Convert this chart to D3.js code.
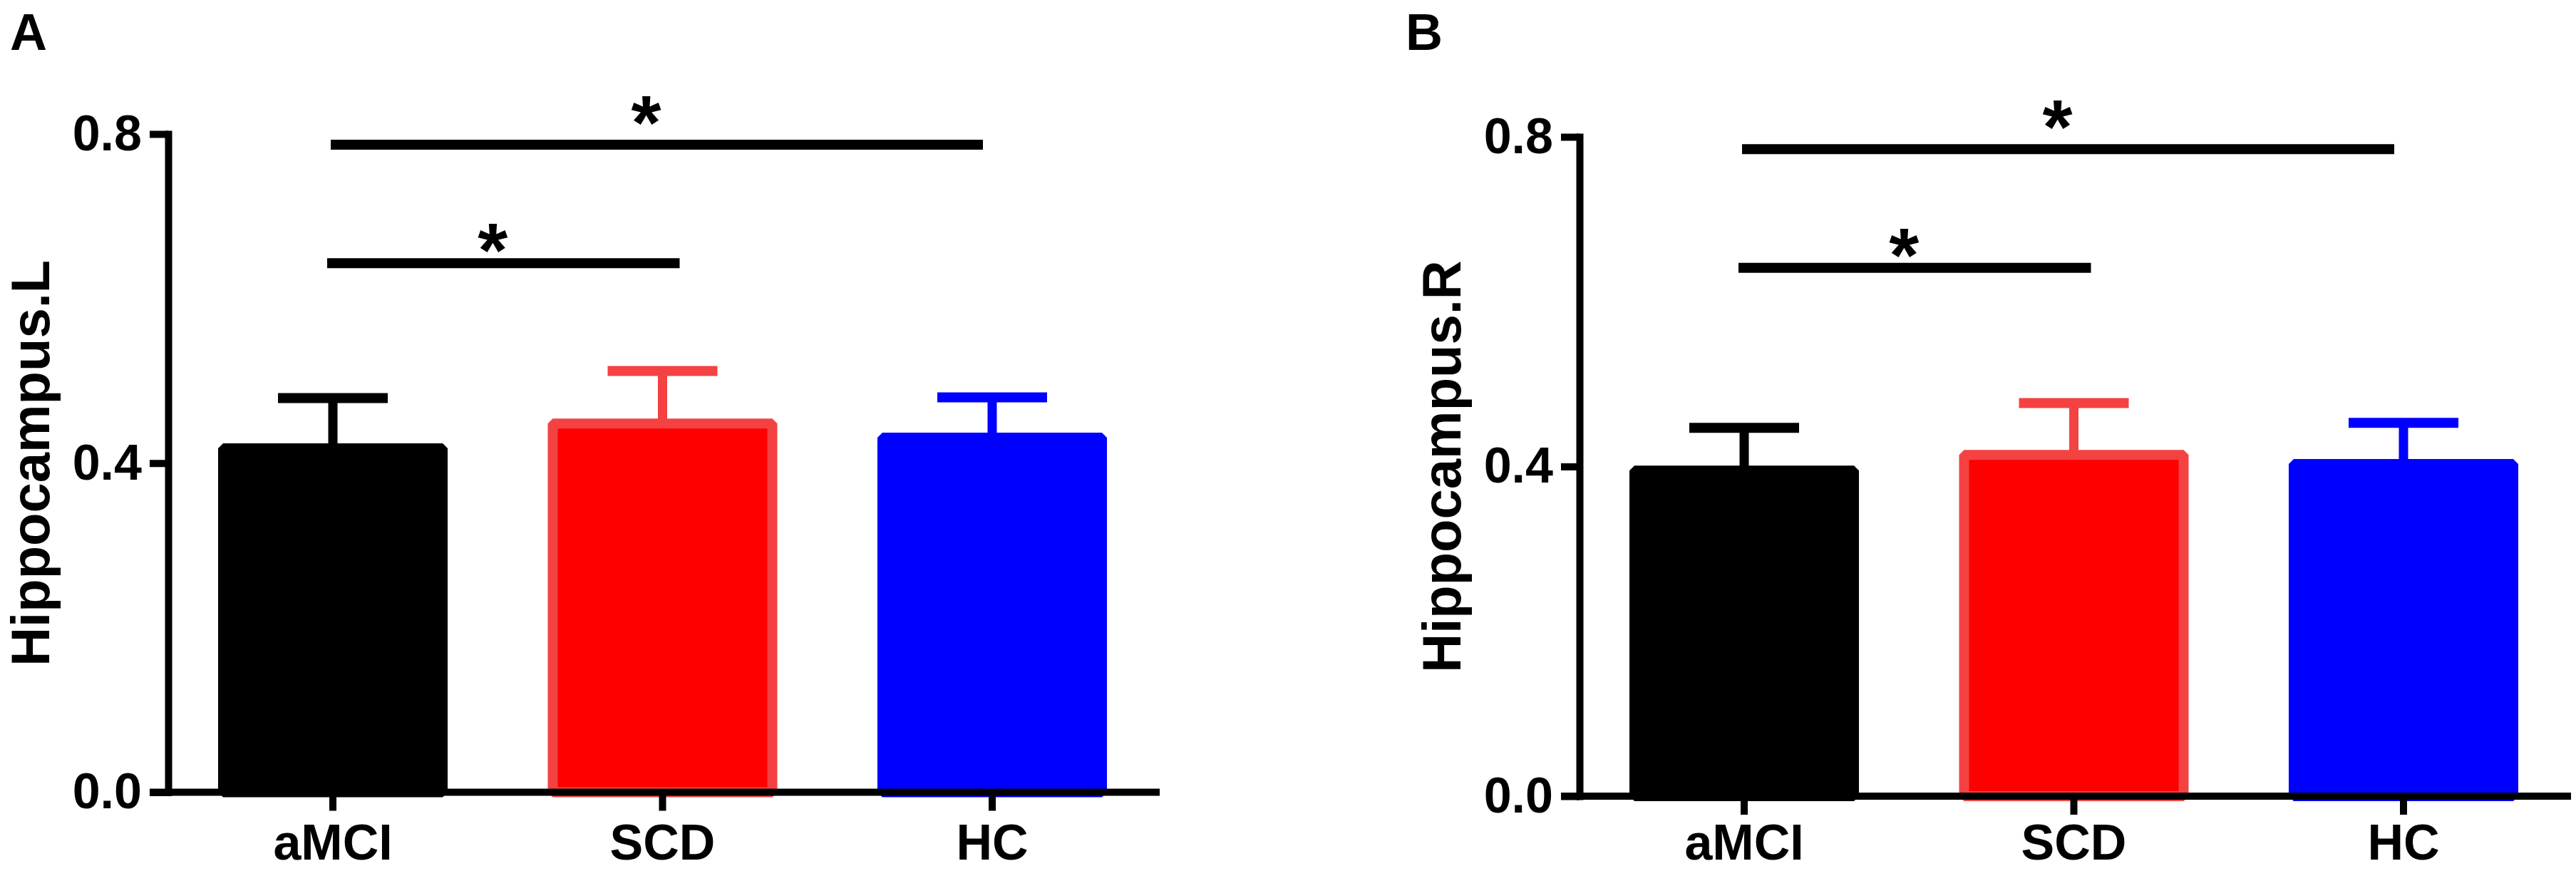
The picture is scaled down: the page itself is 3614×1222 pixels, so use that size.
<!DOCTYPE html>
<html>
<head>
<meta charset="utf-8">
<script src="https://cdn.jsdelivr.net/npm/d3@7.9.0/dist/d3.min.js"></script>
<style>
  body { margin: 0; background: #fff; }
  svg { display: block; font-family: "Liberation Sans", Arial, sans-serif; font-weight: bold; }
</style>
</head>
<body>
<svg id="chart" width="3614" height="1222"></svg>
<script>
const groups = ['aMCI', 'SCD', 'HC'];
const fills = ['#000000', '#ff0000', '#0000ff'];
const edges = ['#000000', '#f44242', '#0000ff'];
const yTicks = [0, 0.4, 0.8];

// left hippocampus: mean and upper error (SEM)
const leftMeans = [0.418, 0.448, 0.431];
const leftSem = [0.061, 0.064, 0.049];
const leftSig = [0.643, 0.787];

// right hippocampus
const rightMeans = [0.395, 0.414, 0.403];
const rightSem = [0.052, 0.063, 0.050];
const rightSig = [0.641, 0.785];

// significant pairs, same in both panels
const sigPairs = [['aMCI', 'SCD'], ['aMCI', 'HC']];

const svg = d3.select('#chart');

function drawPanel({ label, title, means, sem, sig, x0, top, zero, labelX }) {
  const g = svg.append('g');
  const y = d3.scaleLinear().domain([0, 0.8]).range([zero, top]);
  const x = d3.scaleBand()
    .domain(groups)
    .range([x0, x0 + 1387])
    .paddingInner(0.334)
    .paddingOuter(0.1665);
  const mid = (d) => x(d) + x.bandwidth() / 2;

  // bars
  g.selectAll('rect.bar')
    .data(groups)
    .join('rect')
    .attr('class', 'bar')
    .attr('x', (d) => x(d))
    .attr('y', (d, i) => y(means[i]))
    .attr('width', x.bandwidth())
    .attr('height', (d, i) => zero - y(means[i]))
    .attr('fill', (d, i) => fills[i])
    .attr('stroke', (d, i) => edges[i])
    .attr('stroke-width', 14)
    .attr('stroke-linejoin', 'bevel');

  // error bars (upper only)
  g.selectAll('line.stem')
    .data(groups)
    .join('line')
    .attr('class', 'stem')
    .attr('x1', mid).attr('x2', mid)
    .attr('y1', (d, i) => y(means[i]))
    .attr('y2', (d, i) => y(means[i] + sem[i]))
    .attr('stroke', (d, i) => edges[i])
    .attr('stroke-width', 13);

  g.selectAll('line.cap')
    .data(groups)
    .join('line')
    .attr('class', 'cap')
    .attr('x1', (d) => mid(d) - 77)
    .attr('x2', (d) => mid(d) + 77)
    .attr('y1', (d, i) => y(means[i] + sem[i]))
    .attr('y2', (d, i) => y(means[i] + sem[i]))
    .attr('stroke', (d, i) => edges[i])
    .attr('stroke-width', 14);

  // y axis
  const yAxis = g.append('g')
    .attr('transform', `translate(${x0},0)`)
    .call(d3.axisLeft(y)
      .tickValues(yTicks)
      .tickFormat(d3.format('.1f'))
      .tickSize(26)
      .tickSizeOuter(0)
      .tickPadding(11));
  yAxis.select('.domain').attr('stroke-width', 10).attr('stroke-linecap', 'square');
  yAxis.selectAll('.tick line').attr('stroke-width', 10);
  yAxis.selectAll('.tick text')
    .attr('font-size', 70)
    .attr('font-family', '"Liberation Sans", Arial, sans-serif')
    .attr('font-weight', 'bold')
    .attr('fill', '#000');

  // x axis
  g.append('line')
    .attr('x1', x0 - 26).attr('x2', x0 + 1391)
    .attr('y1', zero).attr('y2', zero)
    .attr('stroke', '#000')
    .attr('stroke-width', 10);
  // labels share one baseline near the bottom edge
  const xPad = 1206 - zero - 26 - 0.71 * 70;
  const xAxis = g.append('g')
    .attr('transform', `translate(0,${zero})`)
    .call(d3.axisBottom(x).tickSize(26).tickPadding(xPad));
  xAxis.select('.domain').remove();
  xAxis.selectAll('.tick line').attr('stroke-width', 10);
  xAxis.selectAll('.tick text')
    .attr('font-size', 70)
    .attr('font-family', '"Liberation Sans", Arial, sans-serif')
    .attr('font-weight', 'bold')
    .attr('fill', '#000');

  // axis title
  g.append('text')
    .attr('transform', `translate(${x0 - 167},${(top + zero) / 2}) rotate(-90)`)
    .attr('text-anchor', 'middle')
    .attr('font-size', 76)
    .text(title);

  // significance brackets
  const ends = [[-8, 24], [-3, -13]];
  const starDrop = [19, 6];
  sigPairs.forEach((pair, i) => {
    const ly = y(sig[i]);
    const xa = mid(pair[0]) + ends[i][0];
    const xb = mid(pair[1]) + ends[i][1];
    g.append('line')
      .attr('x1', xa).attr('x2', xb)
      .attr('y1', ly).attr('y2', ly)
      .attr('stroke', '#000')
      .attr('stroke-width', 14);
    g.append('text')
      .attr('x', (xa + xb) / 2 - 15)
      .attr('y', ly + starDrop[i])
      .attr('text-anchor', 'middle')
      .attr('font-size', 108)
      .text('*');
  });

  // panel letter
  svg.append('text')
    .attr('x', labelX)
    .attr('y', 70)
    .attr('font-size', 72)
    .text(label);
}

drawPanel({
  label: 'A', title: 'Hippocampus.L',
  means: leftMeans, sem: leftSem, sig: leftSig,
  x0: 236, top: 188, zero: 1111.5, labelX: 14
});

drawPanel({
  label: 'B', title: 'Hippocampus.R',
  means: rightMeans, sem: rightSem, sig: rightSig,
  x0: 2216, top: 192, zero: 1117, labelX: 1972
});
</script>
</body>
</html>
